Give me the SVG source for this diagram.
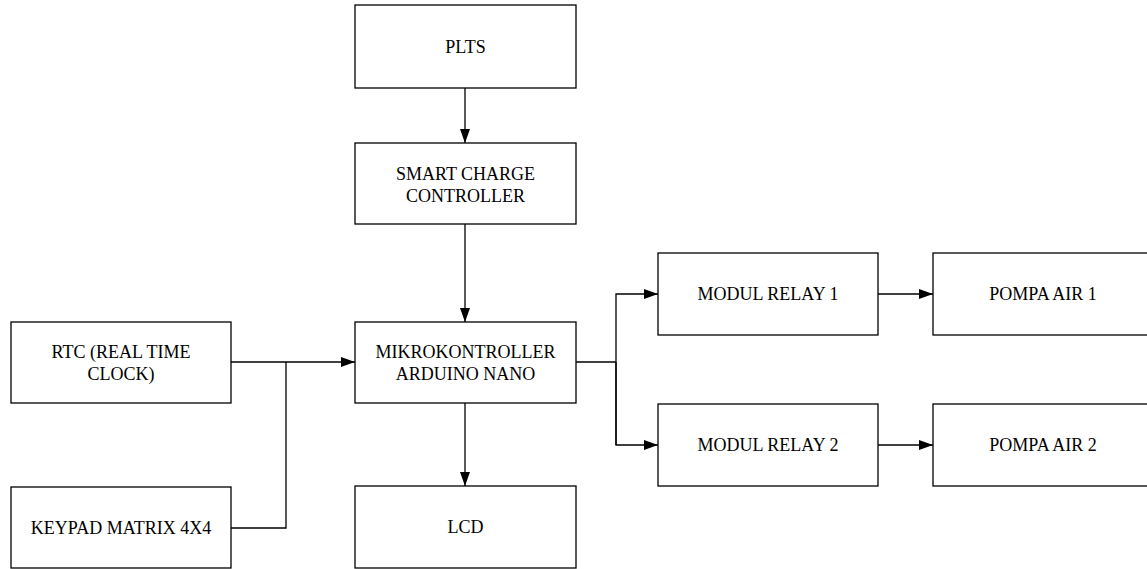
<svg xmlns="http://www.w3.org/2000/svg" width="1147" height="569" viewBox="0 0 1147 569">
<style>
.box{fill:#fff;stroke:#000;stroke-width:1.3}
.lbl{font-family:"Liberation Serif","Times New Roman",serif;font-size:18px;fill:#000;text-anchor:middle}
.con{fill:none;stroke:#000;stroke-width:1.3}
</style>
<defs>
<marker id="arr" markerUnits="userSpaceOnUse" markerWidth="14" markerHeight="10" refX="14" refY="5" orient="auto">
<path d="M0,0 L14,5 L0,10 z" fill="#000"/>
</marker>
</defs>
<rect width="1147" height="569" fill="#fff"/>
<g id="connectors">
<line class="con" x1="465" y1="88" x2="465" y2="143" marker-end="url(#arr)"/>
<line class="con" x1="465" y1="224" x2="465" y2="322" marker-end="url(#arr)"/>
<line class="con" x1="465" y1="403" x2="465" y2="486" marker-end="url(#arr)"/>
<line class="con" x1="231" y1="362" x2="355" y2="362" marker-end="url(#arr)"/>
<polyline class="con" points="231,528 286,528 286,362"/>
<polyline class="con" points="576,362 616,362"/>
<polyline class="con" points="616,445 616,294 658,294" marker-end="url(#arr)"/>
<polyline class="con" points="616,362 616,445 658,445" marker-end="url(#arr)"/>
<line class="con" x1="878" y1="294" x2="933" y2="294" marker-end="url(#arr)"/>
<line class="con" x1="878" y1="445" x2="933" y2="445" marker-end="url(#arr)"/>
</g>
<g id="plts"><rect class="box" x="355" y="5" width="221" height="83"/><text class="lbl" x="465.5" y="52.5">PLTS</text></g>
<g id="scc"><rect class="box" x="355" y="143" width="221" height="81"/><text class="lbl" x="465.5" y="180">SMART CHARGE</text><text class="lbl" x="465.5" y="202">CONTROLLER</text></g>
<g id="mikro"><rect class="box" x="355" y="322" width="221" height="81"/><text class="lbl" x="465.5" y="357.5">MIKROKONTROLLER</text><text class="lbl" x="465.5" y="379.5">ARDUINO NANO</text></g>
<g id="lcd"><rect class="box" x="355" y="486" width="221" height="82"/><text class="lbl" x="465.5" y="533">LCD</text></g>
<g id="rtc"><rect class="box" x="11" y="322" width="220" height="81"/><text class="lbl" x="121" y="357.5">RTC (REAL TIME</text><text class="lbl" x="121" y="380">CLOCK)</text></g>
<g id="keypad"><rect class="box" x="11" y="487" width="220" height="81"/><text class="lbl" x="121" y="534">KEYPAD MATRIX 4X4</text></g>
<g id="relay1"><rect class="box" x="658" y="253" width="220" height="82"/><text class="lbl" x="768" y="300">MODUL RELAY 1</text></g>
<g id="relay2"><rect class="box" x="658" y="404" width="220" height="82"/><text class="lbl" x="768" y="451">MODUL RELAY 2</text></g>
<g id="pompa1"><rect class="box" x="933" y="253" width="221" height="82"/><text class="lbl" x="1043" y="300">POMPA AIR 1</text></g>
<g id="pompa2"><rect class="box" x="933" y="404" width="221" height="82"/><text class="lbl" x="1043" y="451">POMPA AIR 2</text></g>
</svg>
